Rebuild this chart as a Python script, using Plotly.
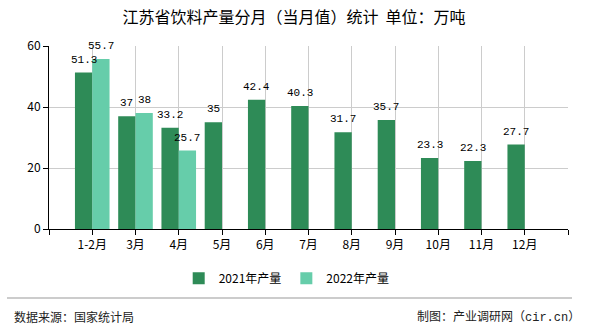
import plotly.graph_objects as go

categories = ["1-2月", "3月", "4月", "5月", "6月", "7月", "8月", "9月", "10月", "11月", "12月"]
values_2021 = [51.3, 37, 33.2, 35, 42.4, 40.3, 31.7, 35.7, 23.3, 22.3, 27.7]
values_2022 = [55.7, 38, 25.7, None, None, None, None, None, None, None, None]
series_names = ["2021年产量", "2022年产量"]
y_ticks = [0, 20, 40, 60]

xpos = list(range(len(categories)))
BAR_OFFSET = 0.2  # half of a bar width (group width 0.8, two bars)

def fmt(v):
    if v is None:
        return ""
    return ("%g" % v)

fig = go.Figure()
fig.add_trace(go.Bar(
    x=xpos, y=values_2021, name=series_names[0],
    marker=dict(color="#2E8B57", line=dict(width=0)),
    hoverinfo="skip",
))
fig.add_trace(go.Bar(
    x=xpos, y=values_2022, name=series_names[1],
    marker=dict(color="#66CDAA", line=dict(width=0)),
    hoverinfo="skip",
))

# value labels drawn on top of all bars
for vals, off in ((values_2021, -BAR_OFFSET), (values_2022, BAR_OFFSET)):
    for i, v in enumerate(vals):
        if v is None:
            continue
        fig.add_annotation(x=i + off, y=v, xref="x", yref="y", text=fmt(v),
                           showarrow=False, xanchor="center", yanchor="bottom",
                           yshift=5,
                           font=dict(family="Liberation Mono", size=11, color="#000"))

tickvals = [-1] + xpos + [len(categories)]
ticktext = [""] + categories + [""]

fig.update_layout(
    width=590, height=330,
    margin=dict(l=49, r=22, t=46, b=101),
    paper_bgcolor="white", plot_bgcolor="white",
    font=dict(family="Noto Sans CJK SC", size=12, color="#000"),
    barmode="group", bargap=0.2, bargroupgap=0,
    title=dict(text="江苏省饮料产量分月（当月值）统计\u00a0\u00a0单位：万吨",
               x=(118 + 470) / 2 / 590, xanchor="center", y=1 - 17 / 330, yanchor="middle",
               font=dict(family="Noto Sans CJK SC", size=16, color="#000")),
    xaxis=dict(range=[-1, len(categories)], tickmode="array",
               tickvals=tickvals, ticktext=ticktext,
               showgrid=True, gridcolor="#cccccc", gridwidth=1,
               showline=True, linecolor="#000", linewidth=1,
               ticks="outside", ticklen=5, tickcolor="#000",
               tickfont=dict(size=12), zeroline=False, fixedrange=True),
    yaxis=dict(range=[0, 60], tickmode="array", tickvals=y_ticks,
               showgrid=True, gridcolor="#cccccc", gridwidth=1,
               showline=True, linecolor="#000", linewidth=1,
               ticks="outside", ticklen=5, tickcolor="#000",
               tickfont=dict(size=12), zeroline=False, fixedrange=True),
    legend=dict(orientation="h", x=0.458, xanchor="center", y=-0.19, yanchor="top",
                font=dict(size=12), itemwidth=30, traceorder="normal"),
    showlegend=True,
)

fig.add_shape(type="line", xref="paper", yref="paper",
              x0=(7 - 49) / 519, x1=(572 - 49) / 519,
              y0=-(298 - 229) / 183, y1=-(298 - 229) / 183,
              line=dict(color="#999999", width=1))
fig.add_annotation(text="数据来源：国家统计局", xref="paper", yref="paper",
                   x=(12 - 49) / 519, y=-(316 - 229) / 183,
                   xanchor="left", yanchor="middle", showarrow=False,
                   font=dict(size=12, color="#222"))
fig.add_annotation(text="制图：产业调研网（<span style='font-family:Liberation Mono'>cir.cn</span>）",
                   xref="paper", yref="paper",
                   x=(582 - 49) / 519, y=-(316 - 229) / 183,
                   xanchor="right", yanchor="middle", showarrow=False,
                   font=dict(size=12, color="#222"))

fig.write_html("out.html")
